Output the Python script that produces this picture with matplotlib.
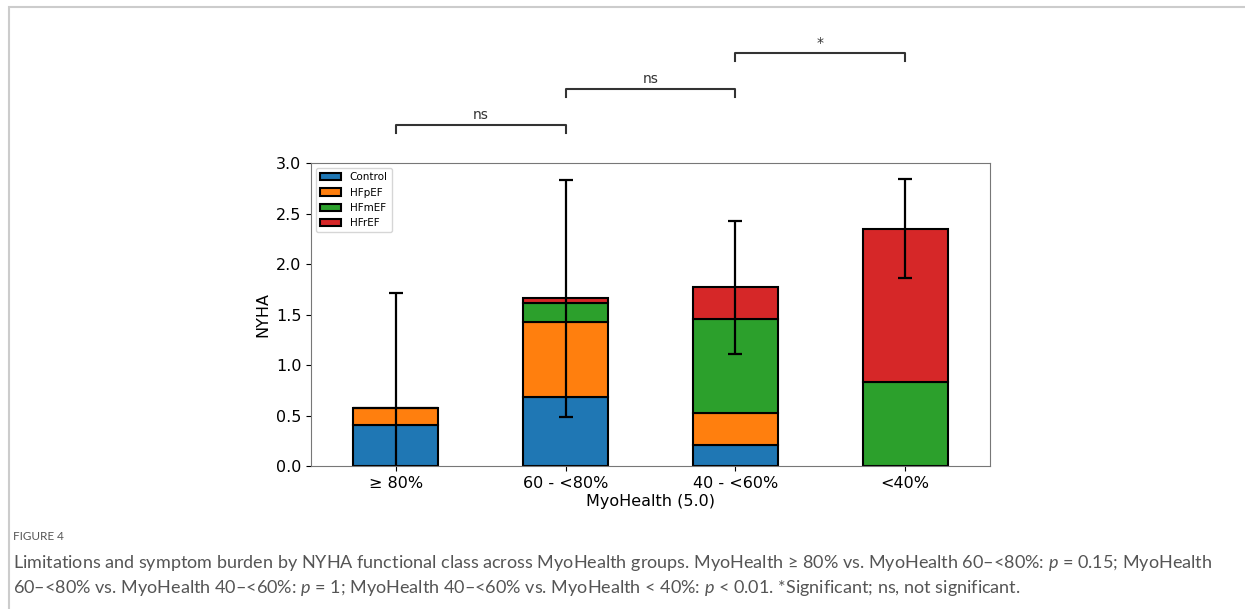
import numpy as np
import matplotlib
matplotlib.use('Agg')
import matplotlib.pyplot as plt
from matplotlib.patches import Rectangle

plt.rcParams['mathtext.fontset'] = 'custom'
plt.rcParams['mathtext.rm'] = 'Lato'
plt.rcParams['mathtext.it'] = 'Lato:italic'

# ---- data ----
groups = ['\u2265 80%', '60 - <80%', '40 - <60%', '<40%']
series = ['Control', 'HFpEF', 'HFmEF', 'HFrEF']
control = [0.41, 0.68, 0.21, 0.0]
hfpef = [0.16, 0.75, 0.31, 0.0]
hfmef = [0.0, 0.18, 0.94, 0.83]
hfref = [0.0, 0.05, 0.31, 1.52]
err = [1.14, 1.17, 0.66, 0.49]
colors = ['#1f77b4', '#ff7f0e', '#2ca02c', '#d62728']
comparisons = [(0, 1, 'ns'), (1, 2, 'ns'), (2, 3, '*')]

fig = plt.figure(figsize=(12.45, 6.09), dpi=100)
ax = fig.add_axes([0.2498, 0.2348, 0.5454, 0.4975])

x = np.arange(len(groups))
bottom = np.zeros(len(groups))
for name, vals, c in zip(series, [control, hfpef, hfmef, hfref], colors):
    ax.bar(x, vals, width=0.5, bottom=bottom, color=c, edgecolor='black',
           linewidth=1.5, label=name)
    bottom = bottom + np.array(vals)

ax.errorbar(x, bottom, yerr=err, fmt='none', ecolor='black',
            elinewidth=1.6, capsize=5, capthick=1.6)

ax.set_xlim(-0.5, 3.5)
ax.set_ylim(0, 3.0)
ax.set_xticks(x)
ax.set_xticklabels(groups, fontsize=11.5)
ax.set_yticks(np.arange(0, 3.01, 0.5))
ax.tick_params(axis='y', labelsize=11.5)
ax.set_xlabel('MyoHealth (5.0)', fontsize=11.5, labelpad=2)
ax.set_ylabel('NYHA', fontsize=11.5)
for s in ax.spines.values():
    s.set_color('#777777')
ax.legend(loc='upper left', fontsize=7.5, frameon=True)

# significance brackets
levels = [3.376, 3.733, 4.089]
for (a, b, txt), yb in zip(comparisons, levels):
    ax.plot([a, a, b, b], [yb - 0.08, yb, yb, yb - 0.08], color='#333333',
            lw=1.5, clip_on=False)
    ax.text((a + b) / 2, yb + 0.03, txt, ha='center', va='bottom',
            fontsize=10, color='#333333')

# card frame and caption
fig.patches.append(Rectangle((9 / 1245, -0.1), 1.2, 1 - 7 / 609 + 0.1,
                             transform=fig.transFigure, fill=False,
                             edgecolor='#cccccc', linewidth=1.5))
fig.text(13 / 1245, 1 - 537 / 609, 'FIGURE 4', fontsize=8.5, color='#555555',
         family='Lato', va='center')
line1 = ('Limitations and symptom burden by NYHA functional class across MyoHealth groups. '
         'MyoHealth \u2265 80% vs. MyoHealth 60\u2013<80%: $p$ = 0.15; MyoHealth')
line2 = ('60\u2013<80% vs. MyoHealth 40\u2013<60%: $p$ = 1; MyoHealth 40\u2013<60% vs. '
         'MyoHealth < 40%: $p$ < 0.01. *Significant; ns, not significant.')
fig.text(13 / 1245, 1 - 563 / 609, line1, fontsize=13, color='#555555',
         family='Lato', va='center')
fig.text(13 / 1245, 1 - 588 / 609, line2, fontsize=13, color='#555555',
         family='Lato', va='center')

fig.savefig('out.png', dpi=100)
